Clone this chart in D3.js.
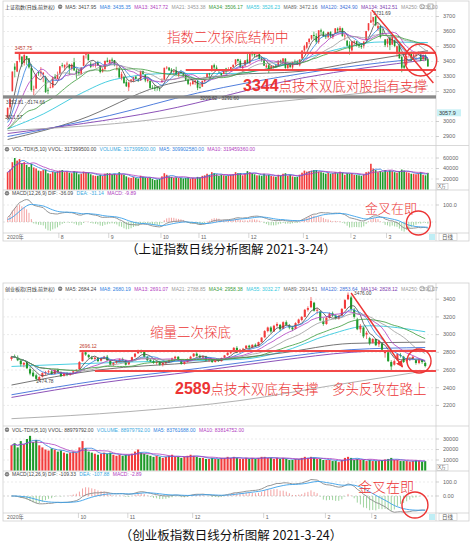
<!DOCTYPE html>
<html>
<head>
<meta charset="utf-8">
<script src="https://cdn.jsdelivr.net/npm/d3@7"></script>
<style>
  body { margin: 0; background: #fff; }
  svg text { font-family: "Liberation Sans", "Noto Sans CJK SC", sans-serif; }
  .cn { font-family: "Noto Sans CJK SC", sans-serif; }
  .thin { font-weight: 300; }
</style>
</head>
<body>
<script>
// ---------------- data: 上证指数 ----------------
// [open, high, low, close], 2020-07-02 .. 2021-03-24
var sseOhlc = [
  // Jul
  [3026,3094,3022,3091],[3095,3158,3081,3153],[3203,3333,3200,3333],[3366,3388,3294,3345],[3333,3404,3329,3403],
  [3412,3456,3395,3451],[3432,3436,3363,3383],[3391,3458,3373,3443],[3437,3437,3378,3415],[3422,3422,3353,3361],
  [3358,3384,3200,3210],[3212,3239,3175,3214],[3220,3315,3215,3314],[3328,3338,3305,3321],[3321,3363,3300,3333],
  [3313,3330,3262,3325],[3290,3305,3190,3197],[3211,3226,3182,3205],[3225,3255,3222,3228],[3228,3295,3222,3295],
  [3300,3316,3280,3287],[3283,3333,3283,3310],
  // Aug
  [3321,3368,3310,3368],[3375,3391,3360,3372],[3360,3380,3340,3378],[3384,3400,3360,3386],[3380,3384,3310,3354],
  [3350,3387,3340,3379],[3395,3424,3340,3340],[3340,3352,3285,3319],[3330,3347,3310,3321],[3318,3362,3312,3360],
  [3371,3440,3371,3439],[3446,3452,3420,3451],[3448,3456,3408,3408],[3385,3398,3356,3364],[3380,3390,3362,3381],
  [3383,3396,3359,3386],[3395,3405,3370,3374],[3370,3376,3321,3330],[3333,3357,3326,3350],[3350,3406,3338,3404],
  [3407,3426,3394,3396],
  // Sep
  [3390,3411,3383,3411],[3413,3426,3389,3405],[3410,3410,3368,3385],[3354,3381,3340,3355],[3353,3365,3293,3293],
  [3289,3331,3275,3316],[3295,3304,3254,3255],[3263,3280,3230,3235],[3228,3265,3203,3260],[3272,3283,3258,3279],
  [3272,3297,3264,3296],[3298,3305,3282,3284],[3275,3290,3263,3270],[3273,3338,3272,3338],[3337,3340,3316,3317],
  [3310,3315,3262,3274],[3270,3292,3260,3280],[3272,3272,3218,3223],[3225,3242,3215,3219],[3224,3243,3203,3218],
  [3228,3229,3205,3224],[3221,3230,3202,3218],
  // Oct
  [3262,3288,3262,3272],[3278,3359,3278,3358],[3357,3370,3348,3360],[3360,3360,3337,3341],[3346,3356,3321,3332],
  [3331,3348,3310,3336],[3339,3365,3312,3313],[3311,3328,3295,3328],[3330,3344,3320,3325],[3316,3330,3296,3312],
  [3310,3312,3270,3278],[3280,3288,3243,3251],[3251,3262,3235,3254],[3248,3271,3248,3269],[3262,3280,3245,3273],
  [3270,3276,3209,3225],
  // Nov
  [3228,3245,3220,3225],[3232,3272,3232,3271],[3268,3280,3259,3277],[3295,3321,3291,3320],[3320,3324,3290,3312],
  [3337,3374,3331,3374],[3376,3386,3348,3360],[3360,3374,3342,3342],[3342,3348,3322,3339],[3322,3322,3294,3310],
  [3316,3349,3316,3347],[3353,3358,3318,3340],[3337,3362,3337,3347],[3340,3364,3332,3363],[3363,3380,3357,3378],
  [3381,3414,3373,3414],[3416,3418,3391,3403],[3404,3415,3355,3362],[3356,3371,3330,3370],[3373,3409,3365,3408],
  [3413,3456,3390,3392],
  // Dec
  [3389,3453,3383,3452],[3453,3466,3433,3449],[3449,3457,3427,3442],[3439,3445,3427,3445],[3450,3458,3414,3417],
  [3421,3430,3397,3410],[3409,3426,3371,3372],[3360,3384,3358,3373],[3375,3390,3323,3347],[3353,3370,3339,3369],
  [3365,3374,3353,3367],[3373,3385,3361,3367],[3369,3408,3368,3405],[3406,3412,3385,3395],[3393,3421,3386,3421],
  [3419,3422,3351,3357],[3357,3386,3342,3382],[3378,3395,3355,3363],[3360,3397,3350,3397],[3400,3413,3384,3397],
  [3399,3407,3377,3379],[3375,3414,3367,3414],[3420,3474,3418,3473],
  // Jan
  [3474,3511,3457,3503],[3492,3528,3482,3529],[3530,3556,3515,3551],[3552,3576,3542,3576],[3577,3600,3545,3570],
  [3570,3588,3517,3532],[3529,3608,3518,3608],[3608,3619,3580,3599],[3597,3604,3564,3566],[3568,3587,3550,3566],
  [3562,3597,3553,3596],[3598,3601,3557,3566],[3564,3585,3550,3583],[3587,3623,3583,3621],[3619,3627,3590,3607],
  [3607,3636,3598,3624],[3621,3625,3566,3569],[3567,3585,3541,3573],[3538,3544,3501,3505],[3512,3535,3446,3483],
  // Feb
  [3474,3534,3466,3534],[3526,3542,3508,3533],[3535,3536,3500,3517],[3511,3527,3490,3502],[3506,3523,3484,3496],
  [3505,3537,3487,3532],[3542,3604,3541,3603],[3609,3656,3602,3655],[3659,3732,3659,3675],[3666,3697,3642,3696],
  [3701,3702,3635,3642],[3620,3657,3603,3636],[3637,3642,3554,3564],[3590,3617,3576,3585],[3547,3550,3496,3509],
  // Mar
  [3517,3552,3495,3551],[3561,3561,3476,3509],[3513,3577,3509,3577],[3542,3546,3495,3503],[3459,3506,3432,3502],
  [3505,3518,3420,3421],[3431,3436,3328,3359],[3373,3393,3350,3358],[3380,3439,3373,3437],[3448,3459,3426,3453],
  [3455,3468,3402,3420],[3428,3451,3410,3447],[3440,3450,3410,3446],[3458,3467,3445,3463],[3445,3452,3403,3405],
  [3416,3448,3406,3443],[3441,3447,3405,3412],[3415,3420,3366,3367]
];
// June 2020 closes, used only as look-back for the moving averages
var ssePreClose = [2915,2921,2923,2919,2931,2938,2956,2944,2921,2920,2890,2932,2936,2939,2968,2965,2971,2980,2962,2985,3026];
// volume, 万
var sseVol = [
  33000,38000,52000,60000,55000,58000,50000,52000,47000,43000,49000,42000,40000,36000,35000,37000,38000,31000,30000,34000,33000,35000,
  36000,37000,33000,34000,32000,31000,35000,33000,29000,30000,34000,33000,32000,29000,27000,26000,26000,28000,26000,30000,31000,
  31000,29000,30000,28000,33000,29000,28000,25000,23000,22000,24000,22000,21000,26000,24000,23000,22000,22000,20000,18000,19000,20000,
  25000,31000,28000,25000,24000,22000,23000,22000,22000,21000,22000,23000,21000,22000,21000,24000,
  23000,26000,27000,30000,28000,33000,31000,29000,26000,28000,27000,26000,27000,28000,29000,33000,31000,31000,27000,30000,35000,
  33000,31000,29000,27000,27000,26000,30000,27000,28000,26000,25000,24000,28000,27000,30000,31000,26000,28000,25000,24000,24000,28000,32000,
  36000,34000,35000,36000,37000,37000,34000,33000,32000,30000,32000,30000,31000,33000,31000,34000,32000,28000,31000,30000,
  31000,28000,28000,27000,26000,29000,33000,34000,49000,40000,37000,33000,35000,33000,37000,
  34000,36000,35000,33000,32000,35000,38000,36000,33000,32000,30000,30000,29000,31000,33000,28000,27000,31740
];
var sseMonthIdx = [0, 22, 43, 65, 81, 102, 125, 145, 160];
var sseMonthLbl = ['2020年', '8', '9', '10', '11', '12', '1', '2', '3'];
var ssePriceTicks = [2900, 3000, 3200, 3300, 3400, 3500, 3600, 3700];
var sseVolTicks = [20000, 40000, 60000];
var sseMacdTicks = [100];
// long averages: [day index, value]
var sseMa55 = [[0,2950],[15,3050],[30,3180],[45,3280],[68,3320],[94,3320],[115,3370],[136,3470],[157,3530],[177,3526]];
var sseMa89 = [[0,2880],[30,3010],[64,3235],[94,3310],[124,3335],[145,3390],[177,3472]];
var sseMa120 = [[0,2900],[43,3040],[80,3190],[124,3320],[159,3395],[177,3424]];
var sseMa134 = [[0,2920],[64,3070],[124,3290],[177,3412]];
var sseMa250 = [[0,2940],[60,3010],[102,3110],[150,3190],[177,3238]];
var sseHeadVals = ['3417.95','3435.35','3417.72','3453.38','3506.17','3526.23','3472.16','3424.90','3412.51','3238.00'];
var sseVolHead = ['317399500.00','317399500.00','309902580.00','319459360.00'];
var sseMacdHead = ['-36.09','-31.14','-9.89'];

// ---------------- data: 创业板指 ----------------
// [open, high, low, close], 2020-09-01 .. 2021-03-24
var cybOhlc = [
  // Sep
  [2725,2760,2705,2750],[2752,2775,2735,2745],[2740,2765,2700,2710],[2705,2730,2640,2665],[2660,2690,2630,2680],
  [2690,2700,2610,2620],[2610,2640,2540,2560],[2570,2600,2520,2530],[2540,2560,2480,2500],[2490,2530,2475,2520],
  [2525,2575,2515,2565],[2560,2590,2540,2575],[2575,2600,2555,2585],[2585,2600,2545,2555],[2555,2610,2550,2600],
  [2600,2615,2565,2575],[2570,2585,2520,2530],[2535,2570,2525,2560],[2560,2575,2530,2545],[2545,2570,2535,2565],
  [2570,2595,2560,2585],[2590,2610,2570,2600],
  // Oct
  [2610,2700,2605,2690],[2700,2815,2695,2800],[2800,2810,2760,2775],[2770,2780,2730,2745],[2740,2760,2715,2725],
  [2725,2750,2700,2740],[2735,2745,2690,2700],[2705,2740,2695,2730],[2735,2760,2725,2750],[2750,2770,2700,2710],
  [2705,2715,2650,2660],[2660,2690,2640,2680],[2685,2710,2670,2700],[2700,2730,2690,2720],[2720,2740,2700,2715],
  [2710,2715,2650,2660],
  // Nov
  [2665,2700,2655,2695],[2700,2750,2695,2745],[2750,2790,2740,2785],[2790,2830,2780,2820],[2820,2830,2790,2800],
  [2805,2815,2740,2750],[2745,2760,2700,2710],[2715,2730,2690,2700],[2700,2720,2670,2680],[2680,2700,2660,2690],
  [2690,2700,2650,2660],[2660,2690,2640,2680],[2680,2700,2660,2690],[2690,2720,2680,2710],[2710,2740,2700,2730],
  [2730,2760,2715,2750],[2750,2755,2700,2710],[2700,2720,2660,2670],[2670,2700,2660,2690],[2690,2730,2685,2725],
  [2725,2760,2715,2750],
  // Dec
  [2755,2790,2745,2785],[2785,2800,2750,2760],[2760,2775,2730,2740],[2740,2765,2725,2755],[2750,2760,2700,2710],
  [2710,2730,2690,2720],[2715,2725,2680,2690],[2690,2720,2685,2715],[2715,2730,2690,2700],[2700,2740,2695,2735],
  [2740,2770,2735,2765],[2770,2800,2760,2795],[2795,2810,2780,2800],[2805,2860,2800,2850],[2850,2870,2790,2800],
  [2800,2840,2795,2830],[2830,2850,2810,2840],[2845,2880,2840,2875],[2875,2885,2840,2855],[2855,2890,2850,2885],
  [2885,2900,2860,2870],[2870,2920,2865,2915],[2915,2970,2910,2966],
  // Jan
  [2970,3050,2960,3040],[3040,3090,3025,3080],[3080,3095,3020,3035],[3035,3110,3030,3100],[3100,3140,3080,3120],
  [3110,3120,3040,3060],[3065,3150,3060,3140],[3140,3160,3100,3110],[3100,3120,3060,3080],[3080,3100,3040,3060],
  [3065,3140,3060,3130],[3130,3180,3120,3170],[3165,3210,3150,3200],[3200,3290,3195,3280],[3280,3320,3260,3300],
  [3310,3425,3300,3380],[3360,3370,3260,3270],[3270,3300,3230,3280],[3260,3270,3150,3160],[3150,3190,3100,3120],
  // Feb
  [3120,3200,3110,3190],[3190,3250,3180,3240],[3240,3260,3200,3215],[3215,3230,3170,3180],[3180,3220,3170,3210],
  [3215,3300,3210,3290],[3295,3400,3290,3390],[3400,3476,3390,3450],[3420,3440,3260,3290],[3280,3300,3180,3200],
  [3170,3190,3050,3060],[3060,3120,3020,3100],[3080,3090,2960,2980],[3000,3040,2950,3020],[2960,2975,2880,2900],
  // Mar
  [2910,2960,2900,2950],[2950,2955,2870,2880],[2890,2940,2860,2930],[2900,2910,2820,2830],[2790,2820,2740,2810],
  [2800,2805,2690,2700],[2690,2710,2589,2640],[2660,2720,2650,2700],[2710,2790,2705,2780],[2770,2790,2740,2760],
  [2750,2760,2680,2690],[2700,2730,2680,2720],[2720,2740,2700,2725],[2730,2760,2710,2750],[2710,2720,2660,2680],
  [2680,2720,2665,2710],[2710,2720,2670,2690],[2680,2690,2630,2645]
];
var cybVol = [
  24000,26000,22000,28000,25000,30000,33000,27000,29000,24000,22000,20000,19000,21000,20000,18000,19000,17000,16000,17000,18000,17000,
  22000,28000,21000,18000,17000,16000,15000,16000,17000,16000,17000,15000,14000,15000,14000,15000,
  15000,16000,18000,20000,17000,16000,15000,14000,13000,14000,13000,12000,13000,14000,15000,13000,13000,12000,13000,14000,15000,
  14000,13000,12000,12000,11000,11000,12000,11000,11000,12000,12000,13000,12000,13000,12000,11000,11000,12000,11000,12000,11000,12000,13000,
  13000,12000,12000,11000,12000,11000,12000,11000,10000,10000,11000,11000,12000,13000,12000,13000,12000,11000,11000,10000,
  10000,10000,9000,9000,8000,10000,12000,13000,12000,10000,11000,10000,10000,9000,10000,
  9000,9000,9500,10000,10500,11000,12000,10000,10000,9000,9000,9000,8500,9000,9500,9000,8500,8898
];
var cybMonthIdx = [0, 22, 38, 59, 82, 102, 117];
var cybMonthLbl = ['2020年', '10', '11', '12', '1', '2', '3'];
var cybPriceTicks = [2200, 2400, 2600, 2800, 3000, 3200, 3400];
var cybVolTicks = [10000, 20000, 30000];
var cybMacdTicks = [0, 100];
var cybMa55 = [[0,2640],[38,2690],[74,2720],[87,2800],[103,3000],[116,3100],[134,3032]];
var cybMa89 = [[0,2430],[28,2600],[61,2690],[87,2790],[110,2900],[134,2915]];
var cybMa120 = [[0,2320],[28,2480],[61,2620],[87,2740],[110,2830],[134,2854]];
var cybMa134 = [[0,2290],[28,2450],[61,2590],[87,2710],[110,2800],[134,2828]];
var cybMa250 = [[0,2050],[38,2130],[74,2255],[103,2420],[134,2590]];
var cybHeadVals = ['2684.24','2680.19','2691.07','2788.85','2958.38','3032.27','2914.51','2853.64','2828.12','2590.07'];
var cybVolHead = ['88979792.00','88979792.00','83761688.00','83814752.00'];
var cybMacdHead = ['-109.33','-107.88','-2.89'];

var maNames = ['MA5','MA8','MA13','MA21','MA34','MA55','MA89','MA120','MA134','MA250'];
var maColors = ['#4a4a4a','#2f80e0','#b03cc0','#9a9a9a','#3a9a3a','#35c8dc','#666666','#3d6fd8','#8040b0','#a8a8a8'];
var shortMaLen = [5, 8, 13, 21, 34];

// ---------------- helpers ----------------
var RED = '#f23b3b', GRN = '#1f9a2a', ANN = '#ec3434';
var L = 3, R = 436, RR = 469;

var svg = d3.select('body').append('svg').attr('width', 471).attr('height', 551);
var defs = svg.append('defs');
defs.append('marker').attr('id', 'arr').attr('viewBox', '0 0 10 10').attr('refX', 9).attr('refY', 5)
  .attr('markerWidth', 5).attr('markerHeight', 5).attr('orient', 'auto')
  .append('path').attr('d', 'M0,0L10,5L0,10z').attr('fill', ANN);

function sma(arr, n) {
  return arr.map(function(d, i) { return d3.mean(arr.slice(Math.max(0, i - n + 1), i + 1)); });
}
function ema(arr, n) {
  var k = 2 / (n + 1), e = arr[0];
  return arr.map(function(v) { e = e + k * (v - e); return e; });
}

function header(g, x, y, items) {
  var cx = x;
  items.forEach(function(it) {
    if (it === 'icon') {
      g.append('circle').attr('cx', cx + 2).attr('cy', y - 1.8).attr('r', 2.2).attr('fill', '#777');
      g.append('line').attr('x1', cx + 0.6).attr('x2', cx + 3.4).attr('y1', y - 1.8).attr('y2', y - 1.8).attr('stroke', '#fff').attr('stroke-width', 0.6);
      cx += 7;
      return;
    }
    var t = g.append('text').attr('x', cx).attr('y', y).attr('font-size', 5).attr('fill', it[1]).text(it[0]);
    cx += t.node().getComputedTextLength() + 3.4;
  });
}

var clipId = 0;
function clipRect(x, y, w, h) {
  var id = 'c' + (clipId++);
  defs.append('clipPath').attr('id', id).append('rect').attr('x', x).attr('y', y).attr('width', w).attr('height', h);
  return 'url(#' + id + ')';
}

function drawChart(c) {
  var g = svg.append('g');
  var n = c.ohlc.length;
  var xb = d3.scaleBand().domain(d3.range(n))
    .range([c.x0 - c.step / 2, c.x0 + (n - 0.5) * c.step]).paddingInner(0.32);
  var cx = function(i) { return xb(i) + xb.bandwidth() / 2; };

  var P = c.panels;
  var yP = d3.scaleLinear().domain(c.priceDom).range(c.priceRng);
  var yV = d3.scaleLinear().domain([0, c.volRef]).range(c.volRng);
  var yM = d3.scaleLinear().domain([0, 100]).range(c.macdRng);

  // frame
  g.append('rect').attr('x', L).attr('y', P.main[0]).attr('width', RR - L).attr('height', P.date[1] - P.main[0])
    .attr('fill', 'none').attr('stroke', '#cfcfcf').attr('stroke-width', 0.8);
  g.append('line').attr('x1', R).attr('x2', R).attr('y1', P.main[0]).attr('y2', P.date[1]).attr('stroke', '#cfcfcf').attr('stroke-width', 0.8);
  [P.vol[0], P.macd[0], P.date[0]].forEach(function(yy) {
    g.append('line').attr('x1', L).attr('x2', RR).attr('y1', yy).attr('y2', yy).attr('stroke', '#cfcfcf').attr('stroke-width', 0.8);
  });

  // grid + right axis labels
  function axis(ticks, sc, fmt) {
    ticks.forEach(function(t) {
      g.append('line').attr('x1', L).attr('x2', R).attr('y1', sc(t)).attr('y2', sc(t))
        .attr('stroke', '#e2e2e2').attr('stroke-width', 0.7).attr('stroke-dasharray', '2,2');
      g.append('line').attr('x1', R).attr('x2', R + 3).attr('y1', sc(t)).attr('y2', sc(t)).attr('stroke', '#bbb').attr('stroke-width', 0.7);
      g.append('text').attr('x', 443).attr('y', sc(t) + 1.8).attr('font-size', 5.5).attr('fill', '#666').text(fmt(t));
    });
  }
  axis(c.priceTicks, yP, function(t) { return t; });
  axis(c.volTicks, yV, function(t) { return t; });
  axis(c.macdTicks, yM, function(t) { return t === 0 ? '0.00' : t.toFixed(1); });

  // price panel
  var closes = c.pre.concat(c.ohlc.map(function(d) { return d[3]; }));
  var off = c.pre.length;
  var gm = g.append('g').attr('clip-path', clipRect(L, P.main[0] + 1, R - L, P.main[1] - P.main[0] - 1));

  var longSets = [c.ma55, c.ma89, c.ma120, c.ma134, c.ma250];
  var longColors = maColors.slice(5);
  var kline = d3.line().x(function(d) { return cx(d[0]); }).y(function(d) { return yP(d[1]); }).curve(d3.curveMonotoneX);
  longSets.forEach(function(s, k) {
    gm.append('path').attr('d', kline(s)).attr('fill', 'none').attr('stroke', longColors[k]).attr('stroke-width', 0.9);
  });

  // bands / support lines drawn before candles
  c.under(g, cx, yP);

  gm.selectAll('line.wick').data(c.ohlc).enter().append('line')
    .attr('x1', function(d, i) { return cx(i); }).attr('x2', function(d, i) { return cx(i); })
    .attr('y1', function(d) { return yP(d[1]); }).attr('y2', function(d) { return yP(d[2]); })
    .attr('stroke', function(d) { return d[3] >= d[0] ? RED : GRN; }).attr('stroke-width', 0.7);
  gm.selectAll('rect.body').data(c.ohlc).enter().append('rect')
    .attr('x', function(d, i) { return xb(i); }).attr('width', xb.bandwidth())
    .attr('y', function(d) { return yP(Math.max(d[0], d[3])); })
    .attr('height', function(d) { return Math.max(0.8, Math.abs(yP(d[0]) - yP(d[3]))); })
    .attr('fill', function(d) { return d[3] >= d[0] ? RED : GRN; });

  var sline = d3.line().x(function(d, i) { return cx(i); }).y(function(d) { return yP(d); });
  shortMaLen.forEach(function(len, k) {
    var m = sma(closes, len).slice(off);
    gm.append('path').attr('d', sline(m)).attr('fill', 'none').attr('stroke', maColors[k]).attr('stroke-width', 0.8);
  });

  // header
  var items = [[c.name, '#333'], 'icon'];
  maNames.forEach(function(nm, k) { items.push([nm + ': ' + c.headVals[k], maColors[k] === '#a8a8a8' ? '#999' : maColors[k]]); });
  header(g, 5, P.main[0] + 7.5, items);
  g.append('circle').attr('cx', 422).attr('cy', P.main[0] + 5.5).attr('r', 2.3).attr('fill', 'none').attr('stroke', '#888').attr('stroke-width', 0.6);
  g.append('rect').attr('x', 428).attr('y', P.main[0] + 3).attr('width', 5).attr('height', 5).attr('fill', 'none').attr('stroke', '#888').attr('stroke-width', 0.6);

  // volume panel
  var gv = g.append('g').attr('clip-path', clipRect(L, P.vol[0], R - L, P.vol[1] - P.vol[0]));
  gv.selectAll('rect').data(c.vol).enter().append('rect')
    .attr('x', function(d, i) { return xb(i); }).attr('width', xb.bandwidth())
    .attr('y', function(d) { return yV(d); }).attr('height', function(d) { return yV(0) - yV(d); })
    .attr('fill', function(d, i) { return c.ohlc[i][3] >= c.ohlc[i][0] ? RED : GRN; });
  var vline = d3.line().x(function(d, i) { return cx(i); }).y(function(d) { return yV(d); });
  gv.append('path').attr('d', vline(sma(c.vol, 5))).attr('fill', 'none').attr('stroke', '#2f80e0').attr('stroke-width', 0.8);
  gv.append('path').attr('d', vline(sma(c.vol, 10))).attr('fill', 'none').attr('stroke', '#b03cc0').attr('stroke-width', 0.8);
  header(g, 5, P.vol[0] + 5.5, ['icon', ['VOL-TDX(5,10) VVOL: ' + c.volHead[0], '#444'], ['VOLUME: ' + c.volHead[1], '#3aa8e0'],
    ['MA5: ' + c.volHead[2], '#2f80e0'], ['MA10: ' + c.volHead[3], '#b03cc0']]);
  g.append('rect').attr('x', 437).attr('y', P.vol[1] - 6.5).attr('width', 11).attr('height', 6).attr('fill', '#fff').attr('stroke', '#aaa').attr('stroke-width', 0.5);
  g.append('text').attr('x', 438).attr('y', P.vol[1] - 2).attr('font-size', 4.6).attr('fill', '#555').text('X万');

  // MACD panel
  var e12 = ema(closes, 12), e26 = ema(closes, 26);
  var dif = e12.map(function(v, i) { return v - e26[i]; });
  var dea = ema(dif, 9);
  dif = dif.slice(off); dea = dea.slice(off);
  var hist = dif.map(function(v, i) { return 2 * (v - dea[i]); });
  var gd = g.append('g').attr('clip-path', clipRect(L, P.macd[0] + 1, R - L, P.macd[1] - P.macd[0] - 1));
  gd.append('line').attr('x1', L).attr('x2', R).attr('y1', yM(0)).attr('y2', yM(0)).attr('stroke', '#ccc').attr('stroke-width', 0.6).attr('stroke-dasharray', '2,2');
  gd.selectAll('line.h').data(hist).enter().append('line')
    .attr('x1', function(d, i) { return cx(i); }).attr('x2', function(d, i) { return cx(i); })
    .attr('y1', yM(0)).attr('y2', function(d) { return yM(d); })
    .attr('stroke', function(d) { return d >= 0 ? '#f08c8c' : '#86c986'; }).attr('stroke-width', 0.8);
  var mline = d3.line().x(function(d, i) { return cx(i); }).y(function(d) { return yM(d); });
  gd.append('path').attr('d', mline(dif)).attr('fill', 'none').attr('stroke', '#8a8a8a').attr('stroke-width', 0.9);
  gd.append('path').attr('d', mline(dea)).attr('fill', 'none').attr('stroke', '#3aa0ea').attr('stroke-width', 0.9);
  header(g, 5, P.macd[0] + 5, ['icon', ['MACD(12,26,9) DIF: ' + c.macdHead[0], '#444'], ['DEA: ' + c.macdHead[1], '#3aa8e0'],
    ['MACD: ' + c.macdHead[2], '#b03cc0']]);

  // date row
  c.monthIdx.forEach(function(mi, k) {
    var xx = k === 0 ? 5 : cx(mi) - 1;
    if (k > 0) g.append('line').attr('x1', xx).attr('x2', xx).attr('y1', P.date[0]).attr('y2', P.date[0] + 5).attr('stroke', '#bbb').attr('stroke-width', 0.6);
    g.append('text').attr('x', xx + 2).attr('y', P.date[0] + 5.5).attr('font-size', 5.2).attr('fill', '#666').text(c.monthLbl[k]);
  });
  g.append('rect').attr('x', 429).attr('y', P.date[0] + 1).attr('width', 6).attr('height', 6).attr('fill', '#bfeef5');
  g.append('rect').attr('x', 439).attr('y', P.date[0] + 0.5).attr('width', 18).attr('height', 7).attr('fill', '#fff').attr('stroke', '#bbb').attr('stroke-width', 0.5);
  g.append('text').attr('x', 442).attr('y', P.date[0] + 5.8).attr('font-size', 5.5).attr('fill', '#555').text('日线');

  c.over(g, cx, yP, yM);
  return g;
}

function redText(g, x, y, num, rest) {
  var t = g.append('text').attr('x', x).attr('y', y).attr('fill', ANN).attr('class', 'cn thin');
  if (num) t.append('tspan').attr('font-size', 16).attr('font-weight', 'bold').attr('font-family', '"Liberation Sans", sans-serif').text(num);
  t.append('tspan').attr('font-size', 13.5).text(rest);
}

// ---------------- chart 1: 上证指数 ----------------
drawChart({
  name: '上证指数(日线,前复权)', ohlc: sseOhlc, pre: ssePreClose, vol: sseVol,
  x0: 8, step: 2.37,
  panels: { main: [1, 145.5], vol: [145.5, 190], macd: [190, 233], date: [233, 241] },
  priceDom: [2840, 3800], priceRng: [145.5, 1.5],
  volRef: 60000, volRng: [189.5, 158],
  macdRng: [222, 205],
  priceTicks: ssePriceTicks, volTicks: sseVolTicks, macdTicks: sseMacdTicks,
  ma55: sseMa55, ma89: sseMa89, ma120: sseMa120, ma134: sseMa134, ma250: sseMa250,
  headVals: sseHeadVals, volHead: sseVolHead, macdHead: sseMacdHead,
  monthIdx: sseMonthIdx, monthLbl: sseMonthLbl,
  under: function(g, cx, y) {
    g.append('rect').attr('x', L).attr('y', y(3174.66)).attr('width', R - L).attr('height', y(3152.81) - y(3174.66))
      .attr('fill', '#8a8a8a');
    g.append('line').attr('x1', cx(3)).attr('x2', R).attr('y1', y(3457.75)).attr('y2', y(3457.75)).attr('stroke', '#f24848').attr('stroke-width', 2.2);
    g.append('line').attr('x1', cx(75)).attr('x2', R).attr('y1', y(3344)).attr('y2', y(3344)).attr('stroke', '#f24848').attr('stroke-width', 2);
  },
  over: function(g, cx, y, yM) {
    g.append('text').attr('x', cx(3)).attr('y', y(3457.75) - 2.5).attr('font-size', 4.8).attr('fill', '#c0392b').text('3457.75');
    g.append('text').attr('x', 6).attr('y', y(3152.81) + 5).attr('font-size', 4.8).attr('fill', '#444').text('3152.81 - 3174.66');
    g.append('text').attr('x', 5).attr('y', y(3021.57) + 1).attr('font-size', 4.8).attr('fill', '#444').text('3021.57');
    g.append('text').attr('x', cx(154)).attr('y', y(3731.69) + 3).attr('font-size', 4.8).attr('fill', '#444').text('3731.69');
    g.append('text').attr('x', cx(81)).attr('y', y(3209.62) + 10).attr('font-size', 4.8).attr('fill', '#444').text('3209.62 - 3291.60');
    g.append('rect').attr('x', 437).attr('y', y(3057.9) - 3.5).attr('width', 24).attr('height', 7).attr('fill', '#c9f1f6');
    g.append('text').attr('x', 439).attr('y', y(3057.9) + 1.8).attr('font-size', 5.5).attr('fill', '#333').text('3057.9');
    redText(g, 167, 42, null, '指数二次探底结构中');
    redText(g, 243, 90.5, '3344', '点技术双底对股指有支撑');
    g.append('circle').attr('cx', cx(174)).attr('cy', y(3410)).attr('r', 16).attr('fill', 'none').attr('stroke', ANN).attr('stroke-width', 1.4);
    g.append('line').attr('x1', cx(153) + 1).attr('y1', y(3743)).attr('x2', cx(177) + 5.5).attr('y2', y(3257))
      .attr('stroke', ANN).attr('stroke-width', 1.4);
    g.append('circle').attr('cx', cx(173)).attr('cy', yM(-6)).attr('r', 12).attr('fill', 'none').attr('stroke', ANN).attr('stroke-width', 1.4);
    g.append('text').attr('x', 365).attr('y', 213).attr('class', 'cn thin').attr('font-size', 13).attr('fill', ANN).text('金叉在即');
  }
});

// ---------------- chart 2: 创业板指 ----------------
drawChart({
  name: '创业板指(日线,前复权)', ohlc: cybOhlc, pre: [], vol: cybVol,
  x0: 12, step: 3.08,
  panels: { main: [283, 426], vol: [426, 471], macd: [471, 513], date: [513, 521] },
  priceDom: [2600, 3400], priceRng: [370, 299.2],
  volRef: 30000, volRng: [470.5, 439],
  macdRng: [496, 482],
  priceTicks: cybPriceTicks, volTicks: cybVolTicks, macdTicks: cybMacdTicks,
  ma55: cybMa55, ma89: cybMa89, ma120: cybMa120, ma134: cybMa134, ma250: cybMa250,
  headVals: cybHeadVals, volHead: cybVolHead, macdHead: cybMacdHead,
  monthIdx: cybMonthIdx, monthLbl: cybMonthLbl,
  under: function(g, cx, y) {
    g.append('line').attr('x1', cx(22)).attr('x2', R).attr('y1', y(2815)).attr('y2', y(2815)).attr('stroke', '#f24848').attr('stroke-width', 2);
    g.append('line').attr('x1', cx(27)).attr('x2', R).attr('y1', y(2589)).attr('y2', y(2589)).attr('stroke', '#f24848').attr('stroke-width', 2);
  },
  over: function(g, cx, y, yM) {
    g.append('text').attr('x', cx(22)).attr('y', y(2815) - 2.5).attr('font-size', 4.8).attr('fill', '#c0392b').text('2696.12');
    g.append('text').attr('x', cx(8)).attr('y', y(2474.78) + 2).attr('font-size', 4.8).attr('fill', '#444').text('2474.78');
    g.append('text').attr('x', cx(110) + 3).attr('y', y(3476) + 3).attr('font-size', 4.8).attr('fill', '#444').text('3476.00');
    redText(g, 150, 337, null, '缩量二次探底');
    redText(g, 175, 394, '2589', '点技术双底有支撑\u3000多头反攻在路上');
    g.append('circle').attr('cx', cx(132)).attr('cy', y(2702)).attr('r', 12).attr('fill', 'none').attr('stroke', ANN).attr('stroke-width', 1.4);
    g.append('line').attr('x1', cx(110)).attr('y1', y(3470)).attr('x2', cx(126) + 2).attr('y2', y(2634))
      .attr('stroke', ANN).attr('stroke-width', 1.4).attr('marker-end', 'url(#arr)');
    g.append('circle').attr('cx', cx(131) - 1).attr('cy', yM(-64)).attr('r', 13).attr('fill', 'none').attr('stroke', ANN).attr('stroke-width', 1.4);
    g.append('text').attr('x', 358).attr('y', 492).attr('class', 'cn thin').attr('font-size', 14).attr('fill', ANN).text('金叉在即');
  }
});

// captions
svg.append('text').attr('x', 231).attr('y', 254).attr('text-anchor', 'middle').attr('class', 'cn').attr('font-size', 12.5).attr('fill', '#111')
  .text('（上证指数日线分析图解 2021-3-24）');
svg.append('text').attr('x', 231).attr('y', 540).attr('text-anchor', 'middle').attr('class', 'cn').attr('font-size', 12.5).attr('fill', '#111')
  .text('（创业板指数日线分析图解 2021-3-24）');
</script>
</body>
</html>
